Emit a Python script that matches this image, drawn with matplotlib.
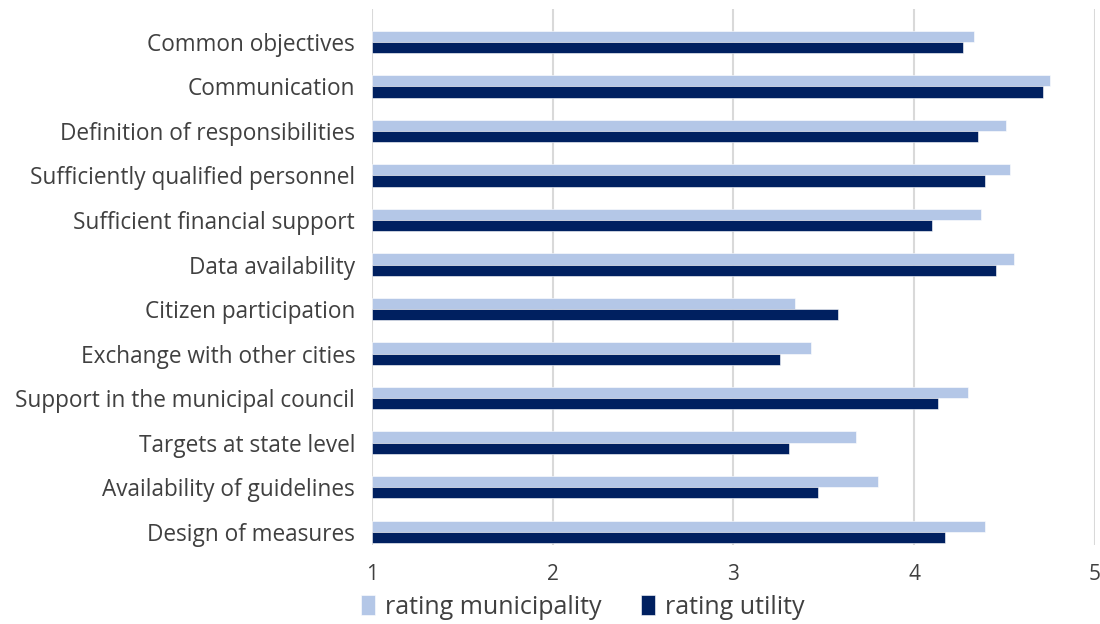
import numpy as np
import matplotlib.pyplot as plt

plt.rcParams['font.family'] = ['Open Sans', 'DejaVu Sans']

# Data
categories = ["Common objectives", "Communication", "Definition of responsibilities",
              "Sufficiently qualified personnel", "Sufficient financial support",
              "Data availability", "Citizen participation", "Exchange with other cities",
              "Support in the municipal council", "Targets at state level",
              "Availability of guidelines", "Design of measures"]
rating_municipality = [4.33, 4.75, 4.51, 4.53, 4.37, 4.55, 3.34, 3.43, 4.30, 3.68, 3.80, 4.39]
rating_utility = [4.27, 4.71, 4.35, 4.39, 4.10, 4.45, 3.58, 3.26, 4.13, 3.31, 3.47, 4.17]
x_ticks = [1, 2, 3, 4, 5]

C_MUNI = "#B4C7E7"
C_UTIL = "#002060"

fig = plt.figure(figsize=(11, 6.24), dpi=100)
ax = fig.add_axes([0.338, 0.1266, 0.6575, 0.859])

y = np.arange(len(categories))
h = 0.25
base = 1
ax.barh(y - h / 2, np.array(rating_municipality) - base, height=h, left=base,
        color=C_MUNI, edgecolor="white", linewidth=0.4, label="rating municipality", zorder=3)
ax.barh(y + h / 2, np.array(rating_utility) - base, height=h, left=base,
        color=C_UTIL, edgecolor="white", linewidth=0.4, label="rating utility", zorder=3)

ax.set_xlim(1, 5)
ax.set_ylim(11.30, -0.74)
ax.set_xticks(x_ticks)
ax.set_xticklabels([str(t) for t in x_ticks], fontsize=15, color="#404040")
ax.set_yticks(y)
ax.set_yticklabels(categories, fontsize=16.3, color="#404040")
ax.tick_params(axis="both", length=0)
ax.tick_params(axis="x", pad=14)
ax.tick_params(axis="y", pad=12)

ax.grid(axis="x", color="#d9d9d9", linewidth=1.5, zorder=0)
for s in ax.spines.values():
    s.set_visible(False)

fig.legend(loc="center left", bbox_to_anchor=(0.317, 0.027), ncol=2, frameon=False,
           fontsize=18, handlelength=0.55, handleheight=0.8, handletextpad=0.4,
           columnspacing=1.6, labelcolor="#404040", borderpad=0)

fig.savefig("out.png", dpi=100)
